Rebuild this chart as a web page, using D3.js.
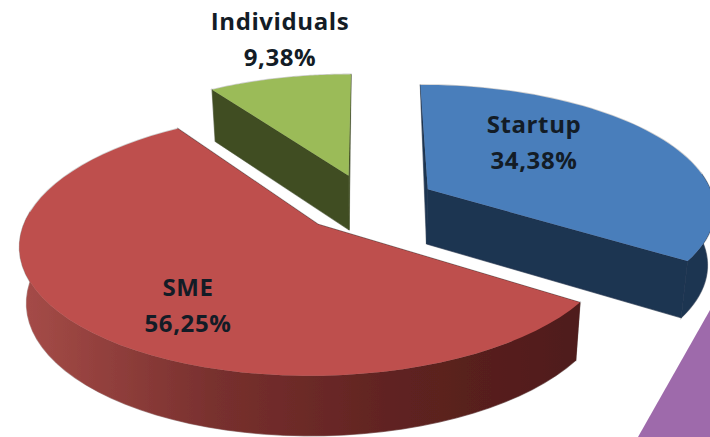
<!DOCTYPE html>
<html>
<head>
<meta charset="utf-8">
<script src="https://cdn.jsdelivr.net/npm/d3@7"></script>
<style>
  html, body { margin: 0; padding: 0; background: #fff; overflow: hidden; }
  text { font-family: "Open Sans", sans-serif; font-weight: 700; fill: #131c26; text-anchor: middle; letter-spacing: 0.6px; }
</style>
</head>
<body>
<div id="my_dataviz"></div>
<script>
// values
var categories = ["Startup", "SME", "Individuals"];
var shares = [34.38, 56.25, 9.38];
var topColors = ["#4a7ebb", "#be4f4d", "#9bbb59"];
var wallColors = ["#1f3451", "url(#smeWall)", "#3f4d22"];

var width = 710, height = 437;

// tilted pie with some perspective
var cx = 368, cy = 203,
  scaleX = 287, scaleY = 123,
  persp = 0.143,
  explode = 0.24;

function project(X, Y) {
  var s = 1 / (1 - persp * Y);
  return { x: cx + scaleX * X * s, y: cy + scaleY * Y * s, s: s };
}

// top face point and the point under it
function topPoint(p) { return [p.x, p.y]; }
function bottomPoint(p) {
  return [cx + (p.x - cx) * 0.98, p.y + 30 + 25 * p.s];
}

var svg = d3.select("#my_dataviz")
  .append("svg")
    .attr("width", width)
    .attr("height", height);

var defs = svg.append("defs");

var grad = defs.append("linearGradient")
  .attr("id", "smeWall")
  .attr("gradientUnits", "userSpaceOnUse")
  .attr("x1", 20).attr("x2", 575).attr("y1", 0).attr("y2", 0);
grad.append("stop").attr("offset", "0%").attr("stop-color", "#a64c48");
grad.append("stop").attr("offset", "35%").attr("stop-color", "#78302e");
grad.append("stop").attr("offset", "70%").attr("stop-color", "#5e2220");
grad.append("stop").attr("offset", "100%").attr("stop-color", "#4f1c1b");

defs.append("filter")
  .attr("id", "soft")
  .append("feGaussianBlur")
  .attr("stdDeviation", 0.5);

var pie = d3.pie().sort(null);
var arcs = pie(shares);
var line = d3.line();

var chart = svg.append("g").attr("filter", "url(#soft)");

// the cut off purple wedge in the corner
chart.append("path")
  .attr("d", line([[width, height - 127], [width, height], [width - 72, height]]) + "Z")
  .attr("fill", "#9e6bab");

// back slices first
var drawOrder = [2, 0, 1];

drawOrder.forEach(function(i) {
  var a = arcs[i];
  var mid = (a.startAngle + a.endAngle) / 2;
  var X0 = Math.sin(mid) * explode,
    Y0 = -Math.cos(mid) * explode;

  var apex = project(X0, Y0);

  var angles = d3.range(0, 61).map(function(k) {
    return a.startAngle + (a.endAngle - a.startAngle) * k / 60;
  });
  var rim = angles.map(function(t) {
    return project(X0 + Math.sin(t), Y0 - Math.cos(t));
  });
  var first = rim[0], last = rim[rim.length - 1];

  // only the part of the rim facing us gets an outer wall
  var frontRim = rim.filter(function(p, k) { return -Math.cos(angles[k]) > -0.15; });

  var shapes = [];

  // straight cut walls, the ones running away from us are only a sliver
  [first, last].forEach(function(p) {
    var pts = Math.abs(p.x - apex.x) < 30
      ? [topPoint(p), topPoint(apex), bottomPoint(apex)]
      : [topPoint(apex), topPoint(p), bottomPoint(p), bottomPoint(apex)];
    shapes.push({ pts: pts, fill: i === 1 ? "#4f1c1b" : wallColors[i] });
  });

  // outer wall
  if (frontRim.length > 1) {
    shapes.push({
      pts: frontRim.map(topPoint).concat(frontRim.map(bottomPoint).reverse()),
      fill: wallColors[i]
    });
  }

  // top face
  shapes.push({ pts: [topPoint(apex)].concat(rim.map(topPoint)), fill: topColors[i], top: true });

  var g = chart.append("g");

  // grey halo behind the whole slice, fills go over it
  g.selectAll(".halo")
    .data(shapes)
    .enter()
    .append("path")
      .attr("class", "halo")
      .attr("d", function(d) { return line(d.pts) + "Z"; })
      .attr("fill", "#cfcfcf")
      .attr("stroke", "#cfcfcf")
      .attr("stroke-width", 1.6);

  // walls get a thin stroke in their own colour to close the seams
  g.selectAll(".face")
    .data(shapes)
    .enter()
    .append("path")
      .attr("class", "face")
      .attr("d", function(d) { return line(d.pts) + "Z"; })
      .attr("fill", function(d) { return d.fill; })
      .attr("stroke", function(d) { return d.top ? "none" : d.fill; })
      .attr("stroke-width", 0.6);
});

// labels
var labelPos = { Startup: [534, 125], SME: [188, 288], Individuals: [280, 22] };

categories.forEach(function(name, i) {
  var pos = labelPos[name];
  var label = svg.append("text")
    .attr("x", pos[0])
    .attr("y", pos[1])
    .style("font-size", "24px");
  label.append("tspan")
    .attr("x", pos[0])
    .attr("dy", "0.35em")
    .text(name);
  label.append("tspan")
    .attr("x", pos[0])
    .attr("dy", "36px")
    .text(String(shares[i]).replace(".", ",") + "%");
});
</script>
</body>
</html>
